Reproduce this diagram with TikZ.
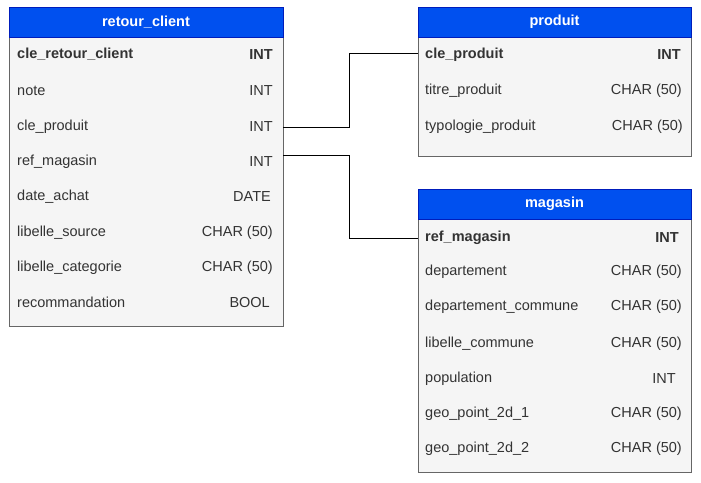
\documentclass[tikz,border=0pt]{standalone}
\usepackage{fontspec}
\setmainfont{Liberation Sans}
\usetikzlibrary{positioning}
\definecolor{headblue}{HTML}{0050EF}
\definecolor{headline}{HTML}{001DBC}
\definecolor{bodyfill}{HTML}{F5F5F5}
\definecolor{bodyline}{HTML}{666666}
\definecolor{rowtext}{HTML}{333333}
\tikzset{
  tablehead/.style={fill=headblue,draw=headline},
  tablebody/.style={fill=bodyfill,draw=bodyline},
  headtext/.style={text=white,font=\fontsize{14.5}{16}\selectfont\bfseries},
  colname/.style={anchor=west,text=rowtext,inner sep=0pt,yshift=-1.5pt,font=\fontsize{14.5}{16}\selectfont},
  coltype/.style={anchor=east,text=rowtext,inner sep=0pt,yshift=-1.5pt,font=\fontsize{14.5}{16}\selectfont},
  keyname/.style={colname,font=\fontsize{14.5}{16}\selectfont\bfseries},
  keytype/.style={coltype,font=\fontsize{14.5}{16}\selectfont\bfseries},
  link/.style={draw=black,line width=0.9pt}
}
\begin{document}
\begin{tikzpicture}[x=1pt,y=-1pt]
  \useasboundingbox (0,0) rectangle (701,482);
  % retour_client
  \filldraw[tablebody] (9,37) rectangle (283,326);
  \filldraw[tablehead] (9,7) rectangle (283,37);
  \node[headtext] (rc-head) at (146,22) {retour\_client};
  \node[keyname] (rc-1) at (17,53) {cle\_retour\_client};
  \node[keytype] (rc-1t) at (273,53) {INT};
  \node[colname] (rc-2) at (17,89) {note};
  \node[coltype] (rc-2t) at (273,89) {INT};
  \node[colname] (rc-3) at (17,125) {cle\_produit};
  \node[coltype] (rc-3t) at (273,125) {INT};
  \node[colname] (rc-4) at (17,160) {ref\_magasin};
  \node[coltype] (rc-4t) at (273,160) {INT};
  \node[colname] (rc-5) at (17,195) {date\_achat};
  \node[coltype] (rc-5t) at (271,195) {DATE};
  \node[colname] (rc-6) at (17,231) {libelle\_source};
  \node[coltype] (rc-6t) at (273,231) {CHAR (50)};
  \node[colname] (rc-7) at (17,266) {libelle\_categorie};
  \node[coltype] (rc-7t) at (273,266) {CHAR (50)};
  \node[colname] (rc-8) at (17,301) {recommandation};
  \node[coltype] (rc-8t) at (270,301) {BOOL};
  \coordinate (rc-out1) at (283,127);
  \coordinate (rc-out2) at (283,155);
  % produit
  \filldraw[tablebody] (418,37) rectangle (691,156);
  \filldraw[tablehead] (418,7) rectangle (691,37);
  \node[headtext] (pr-head) at (554.5,22) {produit};
  \node[keyname] (pr-1) at (425,53) {cle\_produit};
  \node[keytype] (pr-1t) at (681,53) {INT};
  \node[colname] (pr-2) at (425,89) {titre\_produit};
  \node[coltype] (pr-2t) at (682,89) {CHAR (50)};
  \node[colname] (pr-3) at (425,125) {typologie\_produit};
  \node[coltype] (pr-3t) at (683,125) {CHAR (50)};
  \coordinate (pr-in) at (418,53);
  % magasin
  \filldraw[tablebody] (418,219) rectangle (691,472);
  \filldraw[tablehead] (418,189) rectangle (691,219);
  \node[headtext] (mg-head) at (554.5,204) {magasin};
  \node[keyname] (mg-1) at (425,236) {ref\_magasin};
  \node[keytype] (mg-1t) at (679,236) {INT};
  \node[colname] (mg-2) at (425,270) {departement};
  \node[coltype] (mg-2t) at (682,270) {CHAR (50)};
  \node[colname] (mg-3) at (425,305) {departement\_commune};
  \node[coltype] (mg-3t) at (682,305) {CHAR (50)};
  \node[colname] (mg-4) at (425,342) {libelle\_commune};
  \node[coltype] (mg-4t) at (682,342) {CHAR (50)};
  \node[colname] (mg-5) at (425,377) {population};
  \node[coltype] (mg-5t) at (676,377) {INT};
  \node[colname] (mg-6) at (425,412) {geo\_point\_2d\_1};
  \node[coltype] (mg-6t) at (682,412) {CHAR (50)};
  \node[colname] (mg-7) at (425,447) {geo\_point\_2d\_2};
  \node[coltype] (mg-7t) at (682,447) {CHAR (50)};
  \coordinate (mg-in) at (418,238);
  % links
  \draw[link] (rc-out1) -| (349,53) -- (pr-in);
  \draw[link] (rc-out2) -| (349,238) -- (mg-in);
\end{tikzpicture}
\end{document}
